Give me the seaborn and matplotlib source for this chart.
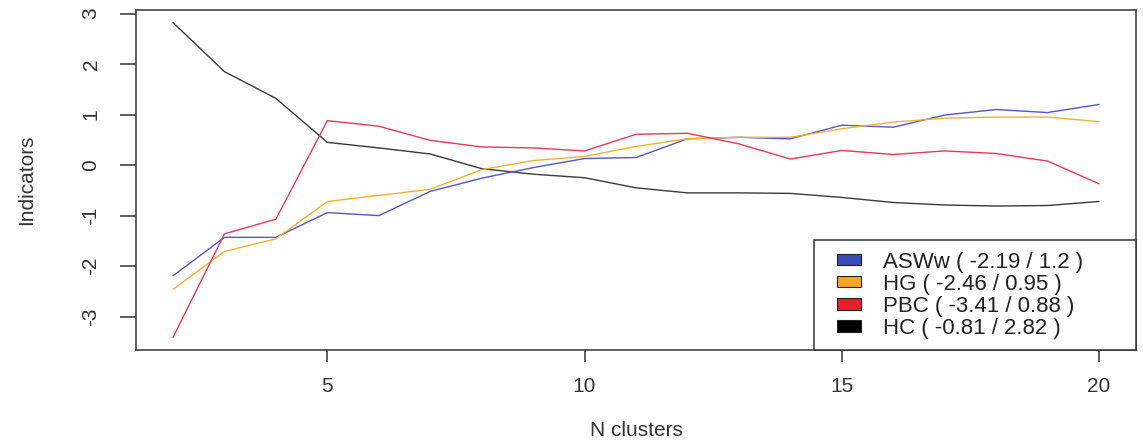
import numpy as np
import pandas as pd
import matplotlib
matplotlib.use("Agg")
import matplotlib.pyplot as plt
from matplotlib.patches import Patch, Rectangle
from matplotlib.legend_handler import HandlerPatch
import seaborn as sns

# cluster-validity indicators (standardised)
clusters = [2, 3, 4, 5, 6, 7, 8, 9, 10, 11, 12, 13, 14, 15, 16, 17, 18, 19, 20]
asww = [-2.19, -1.43, -1.43, -0.94, -1.00, -0.52, -0.26, -0.05, 0.13, 0.15,
        0.52, 0.55, 0.52, 0.79, 0.75, 0.99, 1.10, 1.04, 1.20]
hg = [-2.46, -1.71, -1.46, -0.72, -0.60, -0.48, -0.09, 0.09, 0.17, 0.37,
      0.52, 0.55, 0.55, 0.72, 0.85, 0.93, 0.95, 0.95, 0.86]
pbc = [-3.41, -1.36, -1.07, 0.88, 0.77, 0.49, 0.36, 0.34, 0.28, 0.61,
       0.63, 0.42, 0.12, 0.29, 0.21, 0.28, 0.23, 0.08, -0.37]
hc = [2.82, 1.85, 1.32, 0.45, 0.34, 0.22, -0.07, -0.18, -0.25, -0.45,
      -0.55, -0.55, -0.56, -0.64, -0.74, -0.79, -0.81, -0.80, -0.72]

indices = ["ASWw", "HG", "PBC", "HC"]
legend_labels = ["ASWw ( -2.19 / 1.2 )", "HG ( -2.46 / 0.95 )",
                 "PBC ( -3.41 / 0.88 )", "HC ( -0.81 / 2.82 )"]
line_colors = {"ASWw": "#5656c8", "HG": "#f2b22e", "PBC": "#e83a58", "HC": "#3a3a3a"}
fill_colors = ["#3a4db5", "#f5a623", "#e8202a", "#000000"]

df = pd.DataFrame({
    "N clusters": clusters * 4,
    "value": asww + hg + pbc + hc,
    "index": sum([[name] * len(clusters) for name in indices], []),
})

sns.set_theme(style="ticks")
plt.rcParams["font.family"] = ["Liberation Sans", "DejaVu Sans"]
plt.rcParams["axes.unicode_minus"] = False
ink = "#333333"

fig = plt.figure(figsize=(11.43, 4.43), dpi=100)
ax = fig.add_axes([136 / 1143, 1 - 350 / 443, 1000 / 1143, 340 / 443])

sns.lineplot(data=df, x="N clusters", y="value", hue="index",
             hue_order=["HC", "ASWw", "HG", "PBC"], palette=line_colors,
             linewidth=1.0, legend=False, sort=False, ax=ax)

ax.set_xlim(1.28, 20.72)
ax.set_ylim(-3.66, 3.07)
ax.set_xticks([5, 10, 15, 20])
ax.set_yticks([-3, -2, -1, 0, 1, 2, 3])

for side in ["left", "right", "top", "bottom"]:
    ax.spines[side].set_visible(True)
    ax.spines[side].set_color(ink)
    ax.spines[side].set_linewidth(1.1)

ax.tick_params(axis="x", length=8.6, width=1.1, color=ink, pad=11,
               labelsize=15, labelcolor=ink)
ax.tick_params(axis="y", length=11.5, width=1.1, color=ink, pad=14,
               labelsize=15, labelcolor=ink, labelrotation=90)
for lbl in ax.get_yticklabels():
    lbl.set_va("center")

ax.set_xlabel("N clusters", fontsize=15, color=ink)
ax.set_ylabel("Indicators", fontsize=15, color=ink)
ax.xaxis.set_label_coords(0.5, -0.21)
ax.yaxis.set_label_coords(-0.1, 0.5)


def square_box(legend, orig_handle, xdescent, ydescent, width, height, fontsize):
    # R-style fill box, set in from the left of the handle area
    inset = width * 0.34
    return Rectangle((inset - xdescent, -ydescent), width - inset, height)


handles = [Patch(facecolor=c, edgecolor="#222222", linewidth=0.8) for c in fill_colors]
leg = ax.legend(handles, legend_labels, loc="lower left",
                bbox_to_anchor=(0.678, 0.0, 0.322, 0.326), mode="expand",
                borderaxespad=0, fontsize=16, frameon=True, fancybox=False,
                framealpha=1, edgecolor=ink, handlelength=1.6,
                handleheight=0.42, handletextpad=1.0, labelspacing=0.05,
                borderpad=0.5,
                handler_map={Patch: HandlerPatch(patch_func=square_box)})
leg.get_frame().set_linewidth(1.1)
for t in leg.get_texts():
    t.set_color("#222222")

fig.savefig("out.png", dpi=100)
